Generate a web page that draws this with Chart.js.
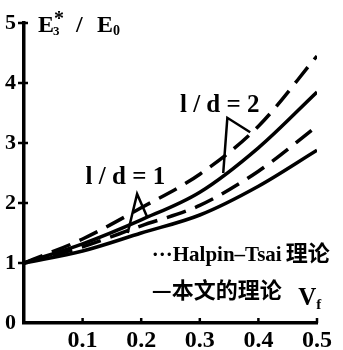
<!DOCTYPE html>
<html>
<head>
<meta charset="utf-8">
<script src="https://cdn.jsdelivr.net/npm/chart.js@4.4.1/dist/chart.umd.min.js"></script>
<style>
  html, body { margin: 0; padding: 0; background: #fff; }
  #wrap { width: 343px; height: 350px; }
</style>
</head>
<body>
<div id="wrap"><canvas id="c" width="343" height="350"></canvas></div>
<script>
// Data
const vf = [0, 0.1, 0.2, 0.3, 0.4, 0.5];
const htLd2 = [1.0, 1.40, 1.92, 2.48, 3.28, 4.45];     // Halpin-Tsai, l/d = 2 (dashed)
const thLd2 = [1.0, 1.32, 1.72, 2.18, 2.92, 3.85];     // 本文的理论, l/d = 2 (solid)
const htLd1 = [1.0, 1.27, 1.62, 1.96, 2.53, 3.28];     // Halpin-Tsai, l/d = 1 (dashed)
const thLd1 = [1.0, 1.20, 1.50, 1.80, 2.28, 2.88];     // 本文的理论, l/d = 1 (solid)
const xTicks = [0, 0.1, 0.2, 0.3, 0.4, 0.5];
const yTicks = [0, 1, 2, 3, 4, 5];

// Annotation anchors (data units)
const labelLd2 = { text: 'l / d = 2', x: 0.334, y: 3.52 };
const labelLd1 = { text: 'l / d = 1', x: 0.173, y: 2.32 };
const pointerLd2 = [[0.340, 2.50], [0.347, 3.42], [0.386, 3.18]];
const pointerLd1 = [[0.177, 1.50], [0.193, 2.15], [0.210, 1.77]];

function pts(ys) { return vf.map((x, i) => ({ x: x, y: ys[i] })); }

const common = { borderColor: '#000', borderWidth: 3.5, pointRadius: 0, fill: false, cubicInterpolationMode: 'monotone' };

const annot = {
  id: 'annot',
  afterDraw(chart) {
    const ctx = chart.ctx, xs = chart.scales.x, ys = chart.scales.y;
    const X = v => xs.getPixelForValue(v), Y = v => ys.getPixelForValue(v);
    ctx.save();
    ctx.fillStyle = '#000';
    ctx.strokeStyle = '#000';
    // tick marks
    ctx.lineWidth = 2.5;
    xTicks.forEach(t => { if (t === 0) return; ctx.beginPath(); ctx.moveTo(X(t), Y(0)); ctx.lineTo(X(t), Y(0) - 5); ctx.stroke(); });
    yTicks.forEach(t => { if (t === 0) return; ctx.beginPath(); ctx.moveTo(X(0) - 6, Y(t)); ctx.lineTo(X(0) + 4, Y(t)); ctx.stroke(); });

    // axis title E3*/E0
    ctx.textBaseline = 'alphabetic';
    ctx.textAlign = 'left';
    let bx = X(0) + 14, by = Y(5) + 9;
    ctx.font = 'bold 24px "Liberation Serif", serif';
    ctx.fillText('E', bx, by);
    let w = ctx.measureText('E').width;
    ctx.font = 'bold 13px "Liberation Serif", serif';
    ctx.fillText('3', bx + w - 1, by + 3);
    ctx.font = 'bold 20px "Liberation Serif", serif';
    ctx.fillText('*', bx + w, by - 7);
    ctx.font = 'bold 24px "Liberation Serif", serif';
    ctx.fillText('/', 76, by);
    ctx.fillText('E', 97, by);
    let w2 = ctx.measureText('E').width;
    ctx.font = 'bold 14px "Liberation Serif", serif';
    ctx.fillText('0', 97 + w2, by + 3);

    // Vf
    ctx.font = 'bold 25px "Liberation Serif", serif';
    ctx.fillText('V', X(0.468), Y(0.3));
    let wv = ctx.measureText('V').width;
    ctx.font = 'bold 15px "Liberation Serif", serif';
    ctx.fillText('f', X(0.468) + wv, Y(0.3) + 4);

    // l/d labels
    ctx.font = 'bold 25px "Liberation Serif", serif';
    ctx.textAlign = 'center';
    ctx.fillText(labelLd2.text, X(labelLd2.x), Y(labelLd2.y));
    ctx.fillText(labelLd1.text, X(labelLd1.x), Y(labelLd1.y));

    // pointers
    ctx.lineWidth = 2.5;
    [pointerLd2, pointerLd1].forEach(p => {
      ctx.beginPath();
      ctx.moveTo(X(p[0][0]), Y(p[0][1]));
      ctx.lineTo(X(p[1][0]), Y(p[1][1]));
      ctx.lineTo(X(p[2][0]), Y(p[2][1]));
      ctx.stroke();
    });

    // legend
    ctx.textAlign = 'left';
    const lx = X(0.218);
    ctx.font = 'bold 21px "Liberation Serif", serif';
    ctx.fillText('···Halpin–Tsai', lx, Y(1.03));
    let wh = ctx.measureText('···Halpin–Tsai').width;
    ctx.font = 'bold 22px "Noto Sans CJK SC", sans-serif';
    ctx.fillText('理论', lx + wh + 4, Y(1.03));
    ctx.fillText('—本文的理论', lx, Y(0.42));
    ctx.restore();
  }
};

new Chart(document.getElementById('c'), {
  type: 'line',
  data: {
    datasets: [
      Object.assign({ label: 'Halpin-Tsai l/d=2', data: pts(htLd2), borderDash: [20, 10] }, common),
      Object.assign({ label: '本文的理论 l/d=2', data: pts(thLd2) }, common),
      Object.assign({ label: 'Halpin-Tsai l/d=1', data: pts(htLd1), borderDash: [20, 10] }, common),
      Object.assign({ label: '本文的理论 l/d=1', data: pts(thLd1) }, common)
    ]
  },
  options: {
    responsive: false,
    animation: false,
    layout: { padding: { top: 23, right: 26, left: 0, bottom: 0 } },
    plugins: { legend: { display: false }, tooltip: { enabled: false } },
    scales: {
      x: {
        type: 'linear', min: 0, max: 0.5,
        afterFit(s) { s.height = 27; },
        afterBuildTicks(s) { s.ticks = xTicks.map(v => ({ value: v })); },
        grid: { display: false, drawTicks: false },
        border: { display: true, color: '#000', width: 3.5 },
        ticks: { color: '#000', padding: 3, font: { family: '"Liberation Serif", serif', size: 24, weight: 'bold' },
                 callback: v => v === 0 ? '' : String(v), maxRotation: 0 }
      },
      y: {
        min: 0, max: 5,
        afterFit(s) { s.width = 24; },
        afterBuildTicks(s) { s.ticks = yTicks.map(v => ({ value: v })); },
        grid: { display: false, drawTicks: false },
        border: { display: true, color: '#000', width: 3.5 },
        ticks: { color: '#000', padding: 8, font: { family: '"Liberation Serif", serif', size: 22, weight: 'bold' } }
      }
    }
  },
  plugins: [annot]
});
</script>
</body>
</html>
